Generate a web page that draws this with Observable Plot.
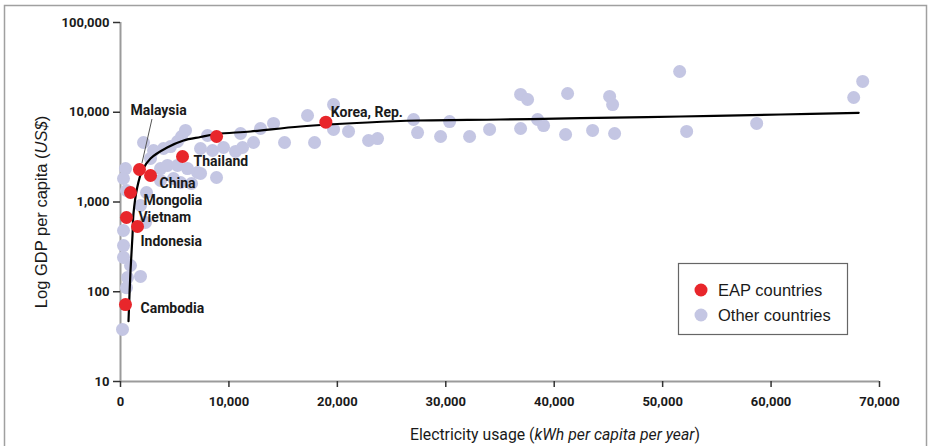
<!DOCTYPE html>
<html><head><meta charset="utf-8">
<script src="https://cdn.jsdelivr.net/npm/d3@7"></script>
<script src="https://cdn.jsdelivr.net/npm/@observablehq/plot@0.6"></script>
<style>
body{margin:0;background:#fff;}
#chart{position:relative;width:931px;height:446px;overflow:hidden;}
</style></head><body><div id="chart"></div>
<script>
// ---- Data ----
const eapCountries = ["Cambodia","Vietnam","Indonesia","Mongolia","Malaysia","China","Thailand","Other EAP","Korea, Rep."];
const eapLabels    = ["Cambodia","Vietnam","Indonesia","Mongolia","Malaysia","China","Thailand","","Korea, Rep."];
const eapKwh = [460, 550, 1570, 920, 1750, 2770, 5720, 8860, 18940];
const eapGdp = [72, 672, 533, 1276, 2303, 1974, 3214, 5370, 7750];

const otherKwh = [185, 550, 646, 1845, 923, 277, 277, 277, 2306, 1845, 461, 277, 553, 2122, 3044, 2768, 3967, 4613, 5258, 5627, 5996, 3690, 4336, 5258, 6181, 7103, 4889, 5535, 6550, 7380, 8856, 8026, 9502, 8487, 11070, 11255, 12269, 12915, 14114, 15129, 17250, 17897, 19649, 19649, 21033, 22878, 23708, 27029, 27398, 29520, 30350, 32195, 34040, 36900, 37545, 36900, 38470, 39020, 41236, 41051, 43542, 45110, 45387, 45571, 51568, 52214, 58671, 67620, 68450, 7380, 10609, 3690, 2399];
const otherGdp = [38, 111, 144, 148, 196, 241, 327, 481, 592, 914, 2360, 1828, 1343, 4603, 3750, 3055, 3945, 4150, 4720, 5370, 6270, 2360, 2553, 2553, 2360, 2133, 1828, 1648, 1608, 2080, 1875, 5508, 4047, 3750, 5796, 4047, 4603, 6590, 7500, 4603, 9200, 4603, 12190, 6430, 6110, 4842, 5095, 8300, 5940, 5370, 7880, 5370, 6430, 15780, 13870, 6590, 8300, 7110, 16180, 5650, 6270, 15000, 12190, 5796, 28450, 6110, 7500, 14600, 22040, 3945, 3656, 1738, 1276];

const fitKwh = [738, 923, 1107, 1199, 1541, 2002, 2768, 4308, 5812, 7380, 8920, 11993, 16605, 22786, 27398, 35055, 42435, 51660, 60885, 68080];
const fitGdp = [47, 172, 424, 745, 1452, 2244, 3055, 4047, 4842, 5297, 5727, 6106, 6935, 7690, 8093, 8300, 8590, 8970, 9440, 9860];

const xTicks = [0, 10000, 20000, 30000, 40000, 50000, 60000, 70000];
const yTicks = [10, 100, 1000, 10000, 100000];
const legendLabels = ["EAP countries", "Other countries"];

// ---- Build tables ----
const eap = eapCountries.map((c, i) => ({country: c, label: eapLabels[i], kwh: eapKwh[i], gdp: eapGdp[i]}));
const others = otherKwh.map((k, i) => ({kwh: k, gdp: otherGdp[i]}));
const fit = fitKwh.map((k, i) => ({kwh: k, gdp: fitGdp[i]}));

// label offsets (pixels from the dot centre)
const labelOffsets = {
  "Cambodia": [15, 4], "Vietnam": [12, 0], "Indonesia": [3, 15], "Mongolia": [13, 8],
  "Malaysia": [-9, -59], "China": [9, 8], "Thailand": [11, 5], "Korea, Rep.": [5, -10]
};

const RED = "#e8262b", LAV = "#c4c6e3";
const narrow = "Roboto,'Liberation Sans',sans-serif";
const sans = "'Liberation Sans',Arial,Helvetica,sans-serif";

const labelMarks = eap.filter(d => d.label).map(d => Plot.text([d], {
  x: "kwh", y: "gdp", text: "label", dx: labelOffsets[d.label][0], dy: labelOffsets[d.label][1],
  textAnchor: "start", lineAnchor: "middle", fontSize: 14, fontWeight: "bold", fill: "#1a1a1a",
  fontFamily: narrow
}));

const plot = Plot.plot({
  width: 931, height: 446,
  marginLeft: 120, marginRight: 52, marginTop: 22, marginBottom: 65,
  style: {fontFamily: narrow, fontSize: "13px", fontWeight: "bold", color: "#1a1a1a", background: "#fff", overflow: "visible"},
  x: {domain: [0, 70000]},
  y: {type: "log", domain: [10, 100000]},
  marks: [
    Plot.ruleX([0], {stroke: "#9b9b9b", strokeWidth: 2}),
    Plot.ruleY([10], {stroke: "#9b9b9b", strokeWidth: 2}),
    Plot.axisX({ticks: xTicks, tickFormat: d3.format(","), tickSize: 6, tickPadding: 9, label: null, stroke: "#333", strokeWidth: 1.5, fontSize: 13}),
    Plot.axisY({ticks: yTicks, tickFormat: d3.format(","), tickSize: 7, tickPadding: 4, label: null, stroke: "#333", strokeWidth: 1.5, fontSize: 13}),
    Plot.dot(others, {x: "kwh", y: "gdp", r: 6.5, fill: LAV}),
    Plot.line(fit, {x: "kwh", y: "gdp", stroke: "#000", strokeWidth: 2.2, curve: "catmull-rom"}),
    Plot.dot(eap, {x: "kwh", y: "gdp", r: 6.5, fill: RED}),
    ...labelMarks
  ]
});
document.getElementById("chart").appendChild(plot);

const svg = d3.select(plot);
const sx = plot.scale("x"), sy = plot.scale("y");

// outer frame
svg.insert("rect", ":first-child").attr("x", 4.5).attr("y", 5.5).attr("width", 922).attr("height", 460)
  .attr("fill", "none").attr("stroke", "#a0a0a0").attr("stroke-width", 1.5);

// Malaysia leader line
const mal = eap.find(d => d.label === "Malaysia");
const mx = sx.apply(mal.kwh), my = sy.apply(mal.gdp);
svg.append("line").attr("x1", mx + 13).attr("y1", my - 50).attr("x2", mx + 3).attr("y2", my - 6)
  .attr("stroke", "#555").attr("stroke-width", 1);

// Axis titles
const yt = svg.append("text").attr("transform", `translate(47,212) rotate(-90)`).attr("text-anchor", "middle")
  .attr("font-family", sans).attr("font-size", 16.5).attr("font-weight", "normal").attr("fill", "#1a1a1a");
yt.append("tspan").text("Log GDP per capita (");
yt.append("tspan").attr("font-style", "italic").text("US$");
yt.append("tspan").text(")");

const xt = svg.append("text").attr("x", 555).attr("y", 440).attr("text-anchor", "middle")
  .attr("font-family", narrow).attr("font-size", 15.8).attr("font-weight", "normal").attr("fill", "#1a1a1a");
xt.append("tspan").text("Electricity usage (");
xt.append("tspan").attr("font-style", "italic").text("kWh per capita per year");
xt.append("tspan").text(")");

// Legend
const lg = svg.append("g").attr("font-family", sans).attr("font-weight", "normal").attr("text-anchor", "start");
lg.append("rect").attr("x", 678.5).attr("y", 263.5).attr("width", 169).attr("height", 71)
  .attr("fill", "#fff").attr("stroke", "#666").attr("stroke-width", 1.2);
[RED, LAV].forEach((c, i) => {
  lg.append("circle").attr("cx", 701).attr("cy", 290 + i * 25).attr("r", 6.5).attr("fill", c);
  lg.append("text").attr("x", 718).attr("y", 290 + i * 25).attr("dy", "0.35em")
    .attr("font-size", 16.5).attr("fill", "#1a1a1a").text(legendLabels[i]);
});
</script></body></html>
